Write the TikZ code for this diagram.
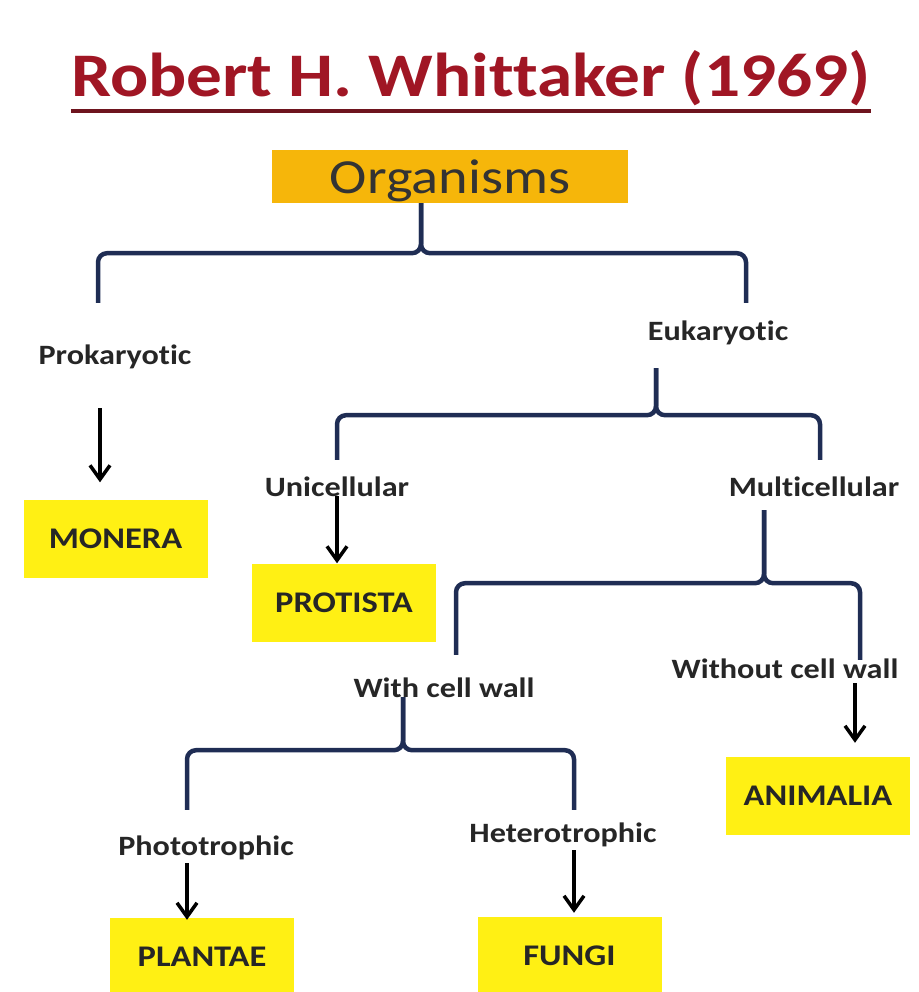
\documentclass[tikz,border=0pt]{standalone}
\usepackage{fontspec}
\setmainfont{Carlito}[FakeStretch=1.15, Ligatures=NoCommon]
\usetikzlibrary{calc,arrows.meta}
\definecolor{titlered}{RGB}{160,22,36}
\definecolor{underlinered}{RGB}{110,20,30}
\definecolor{forknavy}{RGB}{31,45,84}
\definecolor{orgorange}{RGB}{246,182,10}
\definecolor{kingyellow}{RGB}{255,240,20}
\tikzset{
    kingdom/.style={fill=kingyellow, minimum width=184pt, minimum height=78pt, inner sep=0pt,
        text depth=0pt, font=\fontsize{30}{30}\selectfont\bfseries, text=black!85},
    splitlabel/.style={anchor=base, inner sep=0pt, text height=18pt, text depth=0pt,
        font=\fontsize{28}{28}\selectfont\bfseries, text=black!85},
    forkline/.style={draw=forknavy, line width=4.5pt, rounded corners=9pt},
    arr/.style={line width=3.5pt, -{Straight Barb[length=14pt,width=20pt]}}
}
\newcommand{\fork}[4]{%
    \draw[forkline] (#3) |- ($(#1)+(0,#2)$) -- (#1);
    \draw[forkline] (#4) |- ($(#1)+(0,#2)$) -- (#1);
}
\begin{document}
\begin{tikzpicture}[x=1pt,y=-1pt]
        \useasboundingbox (0,0) rectangle (918,992);
        \node[anchor=base, inner sep=0pt, text=titlered, font=\fontsize{62}{62}\selectfont\bfseries] (title) at (471,97) {Robert H. Whittaker (1969)};
        \draw[underlinered, line width=4pt] ([yshift=-14pt]title.base west) -- ([yshift=-14pt]title.base east);
        \node[fill=orgorange, minimum width=356pt, minimum height=53pt, inner sep=0pt, text depth=0pt,
            font=\fontsize{49}{49}\selectfont, text=black!80] (org) at (450,176.5) {Organisms};
        \foreach \n/\t/\x/\y in {prok/Prokaryotic/115/364, euk/Eukaryotic/718/340,
                uni/Unicellular/337/496, multi/Multicellular/814/496,
                wcw/With cell wall/444/697, wocw/Without cell wall/785/678,
                photo/Phototrophic/206/855, hetero/Heterotrophic/563/842}
            \node[splitlabel] (\n) at (\x,\y) {\t};
        \foreach \n/\t/\x/\y in {monera/MONERA/115.5/538.5, protista/PROTISTA/344/602.5,
                animalia/ANIMALIA/818/796, plantae/PLANTAE/202/957, fungi/FUNGI/569.5/956}
            \node[kingdom] (\n) at (\x,\y) {\t};
        \coordinate (s1) at ($(org.south)+(-29,0)$);
        \coordinate (l1) at ($(prok.north)+(-17,-43)$);
        \coordinate (r1) at ($(euk.north)+(28,-19)$);
        \fork{s1}{50}{l1}{r1}
        \coordinate (s2) at ($(euk.south)+(-62,28)$);
        \coordinate (l2) at ($(uni.north)+(0,-18)$);
        \coordinate (r2) at ($(multi.north)+(6,-18)$);
        \fork{s2}{47}{l2}{r2}
        \coordinate (s3) at ($(multi.south)+(-50,14)$);
        \coordinate (l3) at ($(wcw.north)+(12,-24)$);
        \coordinate (r3) at ($(wocw.north)+(75,0)$);
        \fork{s3}{73}{l3}{r3}
        \coordinate (s4) at ($(wcw.south)+(-41,0)$);
        \coordinate (l4) at ($(photo.north)+(-19,-27)$);
        \coordinate (r4) at ($(hetero.north)+(11,-14)$);
        \fork{s4}{53}{l4}{r4}
        \draw[arr] ($(prok.south)+(-15,44)$) -- ($(monera.north)+(-15.5,-17)$);
        \draw[arr] (uni.south) -- (uni.south |- protista.north);
        \draw[arr] ($(wocw.south)+(70,5)$) -- ($(animalia.north)+(37,-14)$);
        \draw[arr] ($(photo.south)+(-19,8)$) -- ($(plantae.north)+(-15,2)$);
        \draw[arr] ($(hetero.south)+(11,8)$) -- ($(fungi.north)+(4.5,-4)$);
\end{tikzpicture}
\end{document}
